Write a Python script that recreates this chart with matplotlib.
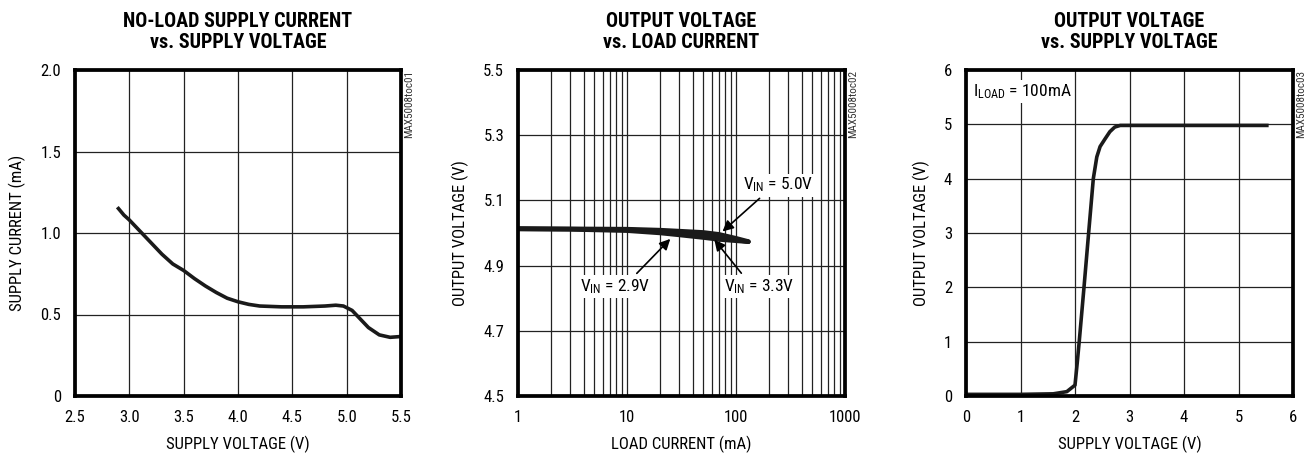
import numpy as np
import matplotlib
matplotlib.use('Agg')
import matplotlib.pyplot as plt

plt.rcParams['font.family'] = ['Roboto Condensed', 'DejaVu Sans']
plt.rcParams['mathtext.fontset'] = 'custom'
plt.rcParams['mathtext.rm'] = 'Roboto Condensed'

# panel 1: no-load supply current vs supply voltage
vs1 = [2.9, 2.95, 3.0, 3.1, 3.2, 3.3, 3.4, 3.5, 3.6, 3.7, 3.8, 3.9, 4.0, 4.1, 4.2,
       4.4, 4.6, 4.8, 4.9, 4.97, 5.05, 5.1, 5.2, 5.3, 5.4, 5.5]
icc = [1.15, 1.11, 1.08, 1.01, 0.94, 0.87, 0.81, 0.77, 0.72, 0.675, 0.635, 0.60, 0.578,
       0.562, 0.552, 0.547, 0.547, 0.552, 0.557, 0.552, 0.525, 0.49, 0.42, 0.375, 0.36, 0.365]

# panel 2: output voltage vs load current
iload = [1, 3, 10, 20, 30, 50, 70, 100, 130]
vout_29 = [5.012, 5.011, 5.007, 5.0, 4.994, 4.986, 4.980, 4.976, 4.973]
vout_33 = [5.013, 5.012, 5.010, 5.005, 5.0, 4.992, 4.986, 4.979, 4.973]
vout_50 = [5.014, 5.013, 5.012, 5.009, 5.006, 5.002, 4.996, 4.984, 4.974]

# panel 3: output voltage vs supply voltage
vs3 = [0, 1.0, 1.6, 1.85, 2.0, 2.04, 2.08, 2.165, 2.25, 2.336, 2.4, 2.46, 2.55, 2.64, 2.73, 2.83, 3.5, 4.5, 5.52]
vo3 = [0.03, 0.03, 0.04, 0.08, 0.2, 0.6, 1.03, 2.0, 3.0, 4.0, 4.4, 4.59, 4.73, 4.865, 4.95, 4.98, 4.98, 4.98, 4.98]

fig = plt.figure(figsize=(13.07, 4.55), dpi=100)
ax1 = fig.add_axes([75/1307, 59/455, 326/1307, 326/455])
ax2 = fig.add_axes([518/1307, 59/455, 327/1307, 326/455])
ax3 = fig.add_axes([966/1307, 59/455, 327/1307, 326/455])

def style(ax, title, xlabel, ylabel, code):
    for s in ax.spines.values():
        s.set_linewidth(2.7)
    ax.tick_params(length=0, labelsize=12, pad=10)
    ax.grid(True, which='major', color='#222222', linewidth=0.9)
    ax.set_axisbelow(True)
    ax.set_title(title, fontsize=14.5, fontweight='bold', pad=16, linespacing=1.15)
    ax.set_xlabel(xlabel, fontsize=12, labelpad=8)
    ax.set_ylabel(ylabel, fontsize=12, labelpad=10)
    ax.text(1.025, 1.0, code, transform=ax.transAxes, rotation=90, fontsize=8,
            va='top', ha='center', color='#333333')

ax1.plot(vs1, icc, color='#1a1a1a', linewidth=2.6)
ax1.set_xlim(2.5, 5.5)
ax1.set_ylim(0, 2.0)
ax1.set_xticks([2.5, 3.0, 3.5, 4.0, 4.5, 5.0, 5.5])
ax1.set_yticks([0, 0.5, 1.0, 1.5, 2.0])
ax1.set_yticklabels(['0', '0.5', '1.0', '1.5', '2.0'])
style(ax1, 'NO-LOAD SUPPLY CURRENT\nvs. SUPPLY VOLTAGE', 'SUPPLY VOLTAGE (V)',
      'SUPPLY CURRENT (mA)', 'MAX5008toc01')

for v in (vout_29, vout_33, vout_50):
    ax2.plot(iload, v, color='#1a1a1a', linewidth=3.2, solid_capstyle='round')
ax2.set_xscale('log')
ax2.set_xlim(1, 1000)
ax2.set_ylim(4.5, 5.5)
ax2.set_xticks([1, 10, 100, 1000])
ax2.set_xticklabels(['1', '10', '100', '1000'])
ax2.set_yticks([4.5, 4.7, 4.9, 5.1, 5.3, 5.5])
ax2.minorticks_on()
ax2.tick_params(which='minor', length=0)
ax2.yaxis.set_minor_locator(matplotlib.ticker.NullLocator())
ax2.grid(True, which='minor', axis='x', color='#222222', linewidth=0.9)
style(ax2, 'OUTPUT VOLTAGE\nvs. LOAD CURRENT', 'LOAD CURRENT (mA)',
      'OUTPUT VOLTAGE (V)', 'MAX5008toc02')
arrow = dict(arrowstyle='-|>', color='black', linewidth=1.2, mutation_scale=16)
box = dict(facecolor='white', edgecolor='none', pad=1.5)
ax2.annotate(r'$\mathregular{V_{IN}}$ = 5.0V', xy=(72, 4.999), xytext=(243, 5.147),
             fontsize=12.5, ha='center', va='center', bbox=box,
             arrowprops=dict(arrow, relpos=(0.3, 0.0)))
ax2.annotate(r'$\mathregular{V_{IN}}$ = 2.9V', xy=(26, 4.988), xytext=(7.8, 4.835),
             fontsize=12.5, ha='center', va='center', bbox=box,
             arrowprops=dict(arrow, relpos=(0.75, 1.0)))
ax2.annotate(r'$\mathregular{V_{IN}}$ = 3.3V', xy=(61, 4.986), xytext=(162, 4.835),
             fontsize=12.5, ha='center', va='center', bbox=box,
             arrowprops=dict(arrow, relpos=(0.3, 1.0)))

ax3.plot(vs3, vo3, color='#1a1a1a', linewidth=2.6)
ax3.set_xlim(0, 6)
ax3.set_ylim(0, 6)
ax3.set_xticks(range(7))
ax3.set_yticks(range(7))
style(ax3, 'OUTPUT VOLTAGE\nvs. SUPPLY VOLTAGE', 'SUPPLY VOLTAGE (V)',
      'OUTPUT VOLTAGE (V)', 'MAX5008toc03')
ax3.text(0.12, 5.6, r'$\mathregular{I_{LOAD}}$ = 100mA', fontsize=12.5, ha='left',
         va='center', bbox=box)

fig.savefig('out.png', dpi=100)
